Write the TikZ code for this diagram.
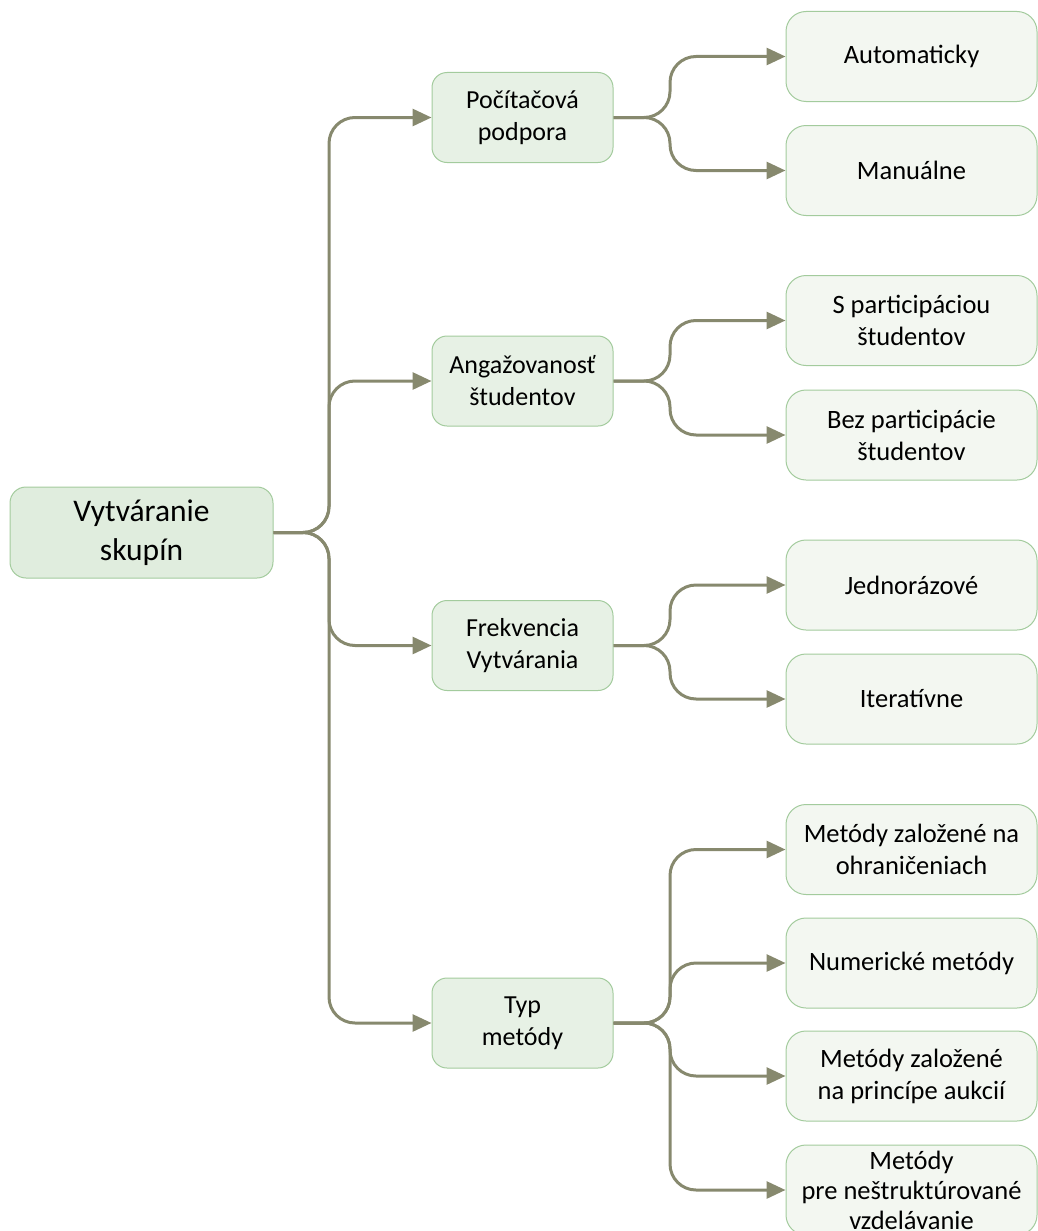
\documentclass[tikz,border=0pt]{standalone}
\usepackage{fontspec}
\setmainfont{Carlito}
\usetikzlibrary{arrows.meta}

\definecolor{linkc}{RGB}{135,137,110}
\definecolor{rootfill}{RGB}{224,237,222}
\definecolor{midfill}{RGB}{231,241,229}
\definecolor{leaffill}{RGB}{243,247,241}
\definecolor{boxline}{RGB}{163,203,157}

\begin{document}
\begin{tikzpicture}[x=1pt,y=-1pt,
  basebox/.style={draw=boxline, line width=1pt, inner sep=0pt, align=center},
  rootbox/.style={basebox, fill=rootfill, rounded corners=16pt,
    minimum width=263pt, minimum height=91pt, font=\fontsize{31.5}{39}\selectfont},
  midbox/.style={basebox, fill=midfill, rounded corners=15pt,
    minimum width=181pt, minimum height=90pt, font=\fontsize{26}{32}\selectfont},
  leafbox/.style={basebox, fill=leaffill, rounded corners=20pt,
    minimum width=251pt, minimum height=90pt, font=\fontsize{26.5}{32}\selectfont},
  link/.style={draw=linkc, line width=3pt, rounded corners=26pt,
    -{Triangle[length=19pt,width=17pt]}},
]
\path[use as bounding box, clip] (0,0) rectangle (1038,1231);

% vertical rails of the two branching levels
\coordinate (v1) at (329,0);
\coordinate (v2) at (670,0);

% root
\node[rootbox] (root) at (141.5,532.5) {Vytváranie\\skupín};

% first level
\node[midbox] (pc)   at (522.5,117.5) {Počítačová\\podpora};
\node[midbox] (ang)  at (522.5,381)   {Angažovanosť\\študentov};
\node[midbox] (frek) at (522.5,645.5) {Frekvencia\\Vytvárania};
\node[midbox] (typ)  at (522.5,1023)  {Typ\\metódy};

% second level
\node[leafbox] (auto)  at (911.5,56.5)  {Automaticky};
\node[leafbox] (man)   at (911.5,170.5) {Manuálne};
\node[leafbox] (spart) at (911.5,320.5) {S participáciou\\študentov};
\node[leafbox] (bez)   at (911.5,435)   {Bez participácie\\študentov};
\node[leafbox] (jedn)  at (911.5,585)   {Jednorázové};
\node[leafbox] (iter)  at (911.5,699)   {Iteratívne};
\node[leafbox] (ohr)   at (911.5,849.5) {Metódy založené na\\ohraničeniach};
\node[leafbox] (num)   at (911.5,963)   {Numerické metódy};
\node[leafbox] (auk)   at (911.5,1076)  {Metódy založené\\na princípe aukcií};
\node[leafbox, font=\fontsize{26.5}{30}\selectfont] (nestr) at (911.5,1190)
  {Metódy\\pre neštruktúrované\\vzdelávanie};

% root to first level
\foreach \c in {pc,ang,frek,typ}
  \draw[link] (root.east) -- (root.east -| v1) -- (\c.west -| v1) -- (\c.west);

% first level to second level
\foreach \p/\c in {pc/auto, pc/man, ang/spart, ang/bez, frek/jedn, frek/iter,
                   typ/ohr, typ/num, typ/auk, typ/nestr}
  \draw[link] (\p.east) -- (\p.east -| v2) -- (\c.west -| v2) -- (\c.west);
\end{tikzpicture}
\end{document}
